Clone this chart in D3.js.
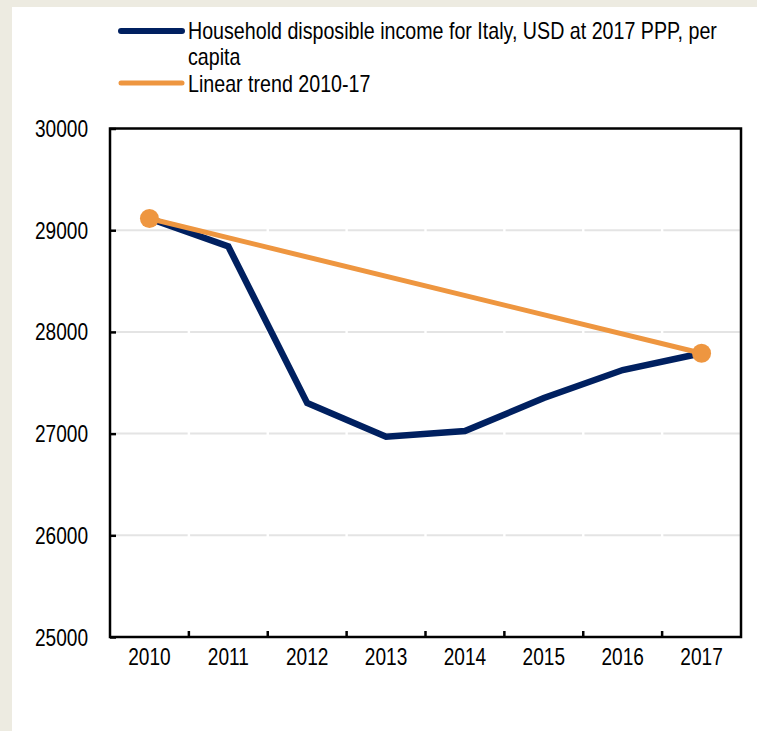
<!DOCTYPE html>
<html>
<head>
<meta charset="utf-8">
<script src="https://cdn.jsdelivr.net/npm/d3@7"></script>
<style>
  html, body { margin: 0; padding: 0; background: #EDEBE1; }
  svg { display: block; }
  text { font-family: "Liberation Sans", Arial, sans-serif; fill: #000; }
</style>
</head>
<body>
<svg id="chart" width="757" height="731"></svg>
<script>
// ---- Data ----
const years = ["2010", "2011", "2012", "2013", "2014", "2015", "2016", "2017"];
const incomeValues = [29115, 28840, 27300, 26970, 27025, 27350, 27625, 27790];
const trendYears = ["2010", "2017"];
const trendValues = [29115, 27790];
const yTicks = [25000, 26000, 27000, 28000, 29000, 30000];
const legendLabels = [
  ["Household disposible income for Italy, USD at 2017 PPP, per", "capita"],
  ["Linear trend 2010-17"]
];

// ---- Styles ----
const navy = "#002060";
const orange = "#EE9640";
const gridColor = "#E4E4E4";
const squeeze = 0.83; // emulate a narrow sans face
const legendSqueeze = 0.855;
const fontSize = 23;

const svg = d3.select("#chart");

// white panel over beige background
svg.append("rect").attr("x", 12).attr("y", 7).attr("width", 757 - 12).attr("height", 731 - 7).attr("fill", "#fff");

const plot = { left: 110, right: 741, top: 128.5, bottom: 637 };

const x = d3.scaleBand().domain(years).range([plot.left, plot.right]).padding(0);
const y = d3.scaleLinear().domain([25000, 30000]).range([plot.bottom, plot.top]);

// gridlines: segmented per category with small gaps
const gridG = svg.append("g");
yTicks.filter(t => t > 25000 && t < 30000).forEach(t => {
  years.forEach((yr, i) => {
    const x0 = x(yr) + (i === 0 ? 6 : 1.2);
    const x1 = x(yr) + x.bandwidth() - 1.2;
    gridG.append("line")
      .attr("x1", x0).attr("x2", x1)
      .attr("y1", y(t)).attr("y2", y(t))
      .attr("stroke", gridColor).attr("stroke-width", 2);
  });
});

// Y axis labels and ticks
const yAxis = d3.axisRight(y).tickValues(yTicks).tickSize(6).tickFormat(d3.format("d"));
const yg = svg.append("g").attr("transform", `translate(${plot.left},0)`).call(yAxis);
yg.select(".domain").remove();
yg.attr("font-family", null).attr("font-size", null);
yg.selectAll(".tick line").attr("stroke", "#000").attr("stroke-width", 2.5);
yg.selectAll(".tick text")
  .attr("x", -22 / squeeze).attr("text-anchor", "end").attr("dy", "0.35em")
  .attr("transform", `scale(${squeeze},1)`)
  .attr("font-size", fontSize);

// X axis: ticks at category boundaries pointing up
const boundaries = years.slice(1).map(yr => x(yr));
svg.append("g").selectAll("line").data(boundaries).join("line")
  .attr("x1", d => d).attr("x2", d => d)
  .attr("y1", plot.bottom).attr("y2", plot.bottom - 6)
  .attr("stroke", "#000").attr("stroke-width", 2.5);

const xAxis = d3.axisBottom(x).tickSize(0).tickPadding(0);
const xg = svg.append("g").attr("transform", `translate(0,${plot.bottom})`).call(xAxis);
xg.select(".domain").remove();
xg.attr("font-family", null).attr("font-size", null);
xg.selectAll(".tick text").attr("y", 28).attr("dy", 0)
  .attr("transform", `scale(${squeeze},1)`)
  .attr("font-size", fontSize);

// Frame
svg.append("rect")
  .attr("x", plot.left).attr("y", plot.top)
  .attr("width", plot.right - plot.left).attr("height", plot.bottom - plot.top)
  .attr("fill", "none").attr("stroke", "#000").attr("stroke-width", 2.5);

// Series lines
const cx = yr => x(yr) + x.bandwidth() / 2;
const line = d3.line().x(d => cx(d[0])).y(d => y(d[1]));

svg.append("path")
  .datum(years.map((yr, i) => [yr, incomeValues[i]]))
  .attr("d", line)
  .attr("fill", "none").attr("stroke", navy).attr("stroke-width", 6.5)
  .attr("stroke-linejoin", "miter");

svg.append("path")
  .datum(trendYears.map((yr, i) => [yr, trendValues[i]]))
  .attr("d", line)
  .attr("fill", "none").attr("stroke", orange).attr("stroke-width", 5);

svg.append("g").selectAll("circle")
  .data(trendYears.map((yr, i) => [yr, trendValues[i]]))
  .join("circle")
  .attr("cx", d => cx(d[0])).attr("cy", d => y(d[1])).attr("r", 9.5)
  .attr("fill", orange);

// Legend
const legend = svg.append("g");
const legendItems = [
  { color: navy, width: 6, lineY: 31, textY: 39, lines: legendLabels[0] },
  { color: orange, width: 5, lineY: 83, textY: 91.5, lines: legendLabels[1] }
];
legendItems.forEach(item => {
  legend.append("line")
    .attr("x1", 121).attr("x2", 182)
    .attr("y1", item.lineY).attr("y2", item.lineY)
    .attr("stroke", item.color).attr("stroke-width", item.width)
    .attr("stroke-linecap", "round");
  item.lines.forEach((t, j) => {
    legend.append("text")
      .attr("transform", `translate(188,${item.textY + j * 26}) scale(${legendSqueeze},1)`)
      .attr("font-size", fontSize)
      .text(t);
  });
});
</script>
</body>
</html>
